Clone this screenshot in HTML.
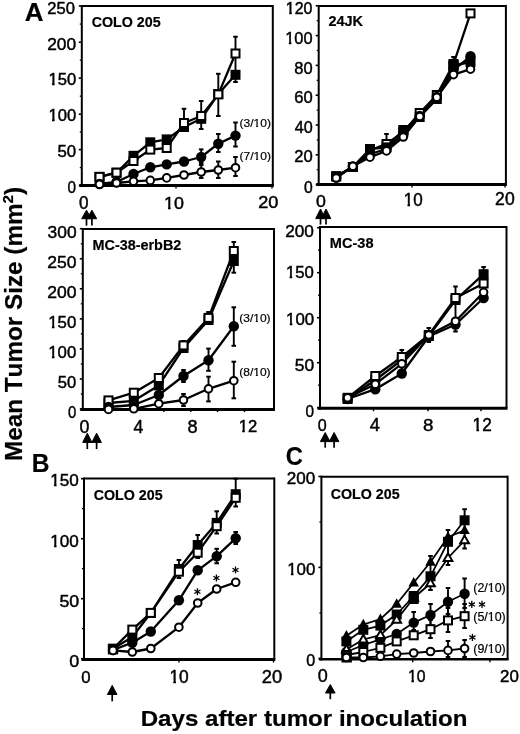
<!DOCTYPE html>
<html><head><meta charset="utf-8"><style>
html,body{margin:0;padding:0;background:#fff;}
svg{display:block;will-change:transform;}
text{font-family:"Liberation Sans",sans-serif;font-kerning:none;fill:#000;stroke:#000;stroke-width:0.45px;}
text[font-weight="bold"]{stroke-width:0.2px;}
text.sm{stroke-width:0.2px;}
</style></head><body>
<svg width="520" height="734" viewBox="0 0 520 734" stroke="#000" fill="none">
<rect x="0" y="0" width="520" height="734" fill="#fff" stroke="none"/>
<g stroke="none" fill="#000">
</g>
<line x1="81.80" y1="6.00" x2="272.80" y2="6.00" stroke-width="2.0" stroke-linecap="butt"/>
<line x1="272.80" y1="5.00" x2="272.80" y2="185.60" stroke-width="2.0" stroke-linecap="butt"/>
<line x1="81.80" y1="5.00" x2="81.80" y2="187.10" stroke-width="2.0" stroke-linecap="butt"/>
<line x1="79.30" y1="185.60" x2="273.80" y2="185.60" stroke-width="3.0" stroke-linecap="butt"/>
<line x1="78.80" y1="6.00" x2="81.80" y2="6.00" stroke-width="1.6" stroke-linecap="butt"/>
<line x1="78.80" y1="42.20" x2="81.80" y2="42.20" stroke-width="1.6" stroke-linecap="butt"/>
<line x1="78.80" y1="78.10" x2="81.80" y2="78.10" stroke-width="1.6" stroke-linecap="butt"/>
<line x1="78.80" y1="114.20" x2="81.80" y2="114.20" stroke-width="1.6" stroke-linecap="butt"/>
<line x1="78.80" y1="149.60" x2="81.80" y2="149.60" stroke-width="1.6" stroke-linecap="butt"/>
<line x1="78.80" y1="185.50" x2="81.80" y2="185.50" stroke-width="1.6" stroke-linecap="butt"/>
<line x1="79.80" y1="24.10" x2="81.80" y2="24.10" stroke-width="1.3" stroke-linecap="butt"/>
<line x1="79.80" y1="60.15" x2="81.80" y2="60.15" stroke-width="1.3" stroke-linecap="butt"/>
<line x1="79.80" y1="96.15" x2="81.80" y2="96.15" stroke-width="1.3" stroke-linecap="butt"/>
<line x1="79.80" y1="131.90" x2="81.80" y2="131.90" stroke-width="1.3" stroke-linecap="butt"/>
<line x1="79.80" y1="167.55" x2="81.80" y2="167.55" stroke-width="1.3" stroke-linecap="butt"/>
<line x1="176.00" y1="185.60" x2="176.00" y2="188.60" stroke-width="1.4" stroke-linecap="butt"/>
<line x1="272.00" y1="185.60" x2="272.00" y2="188.60" stroke-width="1.4" stroke-linecap="butt"/>
<text transform="matrix(0.9913,0,0,1,24.65,20.60)" font-size="26.16" font-weight="bold">A</text>
<text transform="matrix(0.9550,0,0,1,47.37,13.63)" font-size="17.37" font-weight="normal">250</text>
<text transform="matrix(1.0238,0,0,1,47.23,49.63)" font-size="16.95" font-weight="normal">200</text>
<text transform="matrix(0.9883,0,0,1,48.43,85.44)" font-size="16.81" font-weight="normal">150</text><g transform="matrix(0.9883,0,0,1,48.43,85.44)" fill="#fff" stroke="none"><rect x="0.471" y="-2.356" width="3.174" height="3.856"/><rect x="6.294" y="-2.356" width="3.043" height="3.856"/></g>
<text transform="matrix(0.9800,0,0,1,48.43,121.43)" font-size="16.95" font-weight="normal">100</text><g transform="matrix(0.9800,0,0,1,48.43,121.43)" fill="#fff" stroke="none"><rect x="0.475" y="-2.366" width="3.201" height="3.866"/><rect x="6.347" y="-2.366" width="3.068" height="3.866"/></g>
<text transform="matrix(1.0105,0,0,1,57.43,156.84)" font-size="16.67" font-weight="normal">50</text>
<text transform="matrix(0.9163,0,0,1,67.60,192.84)" font-size="16.67" font-weight="normal">0</text>
<text transform="matrix(0.9716,0,0,1,79.03,209.03)" font-size="17.66" font-weight="normal">0</text>
<text transform="matrix(1.0533,0,0,1,164.04,208.63)" font-size="16.95" font-weight="normal">10</text><g transform="matrix(1.0533,0,0,1,164.04,208.63)" fill="#fff" stroke="none"><rect x="0.532" y="-2.366" width="3.185" height="3.866"/><rect x="6.306" y="-2.366" width="3.052" height="3.866"/></g>
<text transform="matrix(1.0944,0,0,1,258.29,207.94)" font-size="16.53" font-weight="normal">20</text>
<text transform="matrix(1.0101,0,0,1,91.71,27.26)" font-size="14.12" font-weight="bold">COLO 205</text>
<text transform="matrix(1.0498,0,0,1,239.45,126.82)" font-size="11.49" font-weight="normal" class="sm">(3/10)</text><g transform="matrix(1.0498,0,0,1,239.45,126.82)" fill="#fff" stroke="none"><rect x="13.516" y="-1.958" width="2.228" height="3.458"/><rect x="17.854" y="-1.958" width="2.138" height="3.458"/></g>
<text transform="matrix(1.0498,0,0,1,239.45,159.52)" font-size="11.49" font-weight="normal" class="sm">(7/10)</text><g transform="matrix(1.0498,0,0,1,239.45,159.52)" fill="#fff" stroke="none"><rect x="13.516" y="-1.958" width="2.228" height="3.458"/><rect x="17.854" y="-1.958" width="2.138" height="3.458"/></g>
<path d="M86.50,210.20 L91.30,218.70 L81.70,218.70Z" fill="#000"/>
<line x1="86.50" y1="217.70" x2="86.50" y2="225.60" stroke-width="1.7" stroke-linecap="butt"/>
<path d="M91.90,210.20 L96.70,218.70 L87.10,218.70Z" fill="#000"/>
<line x1="91.90" y1="217.70" x2="91.90" y2="225.60" stroke-width="1.7" stroke-linecap="butt"/>
<line x1="184.00" y1="108.80" x2="184.00" y2="131.00" stroke-width="1.9" stroke-linecap="butt"/>
<line x1="181.70" y1="108.80" x2="186.30" y2="108.80" stroke-width="2.0" stroke-linecap="butt"/>
<line x1="181.70" y1="131.00" x2="186.30" y2="131.00" stroke-width="2.0" stroke-linecap="butt"/>
<line x1="201.20" y1="101.00" x2="201.20" y2="129.00" stroke-width="1.9" stroke-linecap="butt"/>
<line x1="198.90" y1="101.00" x2="203.50" y2="101.00" stroke-width="2.0" stroke-linecap="butt"/>
<line x1="198.90" y1="129.00" x2="203.50" y2="129.00" stroke-width="2.0" stroke-linecap="butt"/>
<line x1="218.30" y1="73.80" x2="218.30" y2="116.00" stroke-width="1.9" stroke-linecap="butt"/>
<line x1="216.00" y1="73.80" x2="220.60" y2="73.80" stroke-width="2.0" stroke-linecap="butt"/>
<line x1="216.00" y1="116.00" x2="220.60" y2="116.00" stroke-width="2.0" stroke-linecap="butt"/>
<line x1="235.50" y1="36.70" x2="235.50" y2="82.00" stroke-width="1.9" stroke-linecap="butt"/>
<line x1="233.20" y1="36.70" x2="237.80" y2="36.70" stroke-width="2.0" stroke-linecap="butt"/>
<line x1="233.20" y1="82.00" x2="237.80" y2="82.00" stroke-width="2.0" stroke-linecap="butt"/>
<line x1="218.30" y1="134.00" x2="218.30" y2="152.00" stroke-width="1.9" stroke-linecap="butt"/>
<line x1="216.00" y1="134.00" x2="220.60" y2="134.00" stroke-width="2.0" stroke-linecap="butt"/>
<line x1="216.00" y1="152.00" x2="220.60" y2="152.00" stroke-width="2.0" stroke-linecap="butt"/>
<line x1="235.50" y1="122.50" x2="235.50" y2="146.50" stroke-width="1.9" stroke-linecap="butt"/>
<line x1="233.20" y1="122.50" x2="237.80" y2="122.50" stroke-width="2.0" stroke-linecap="butt"/>
<line x1="233.20" y1="146.50" x2="237.80" y2="146.50" stroke-width="2.0" stroke-linecap="butt"/>
<line x1="201.20" y1="149.40" x2="201.20" y2="163.00" stroke-width="1.9" stroke-linecap="butt"/>
<line x1="198.90" y1="149.40" x2="203.50" y2="149.40" stroke-width="2.0" stroke-linecap="butt"/>
<line x1="198.90" y1="163.00" x2="203.50" y2="163.00" stroke-width="2.0" stroke-linecap="butt"/>
<line x1="218.30" y1="161.50" x2="218.30" y2="178.00" stroke-width="1.9" stroke-linecap="butt"/>
<line x1="216.00" y1="161.50" x2="220.60" y2="161.50" stroke-width="2.0" stroke-linecap="butt"/>
<line x1="216.00" y1="178.00" x2="220.60" y2="178.00" stroke-width="2.0" stroke-linecap="butt"/>
<line x1="235.50" y1="157.00" x2="235.50" y2="176.00" stroke-width="1.9" stroke-linecap="butt"/>
<line x1="233.20" y1="157.00" x2="237.80" y2="157.00" stroke-width="2.0" stroke-linecap="butt"/>
<line x1="233.20" y1="176.00" x2="237.80" y2="176.00" stroke-width="2.0" stroke-linecap="butt"/>
<line x1="201.20" y1="165.00" x2="201.20" y2="178.00" stroke-width="1.9" stroke-linecap="butt"/>
<line x1="198.90" y1="165.00" x2="203.50" y2="165.00" stroke-width="2.0" stroke-linecap="butt"/>
<line x1="198.90" y1="178.00" x2="203.50" y2="178.00" stroke-width="2.0" stroke-linecap="butt"/>
<polyline points="99.50,176.90 116.50,172.70 133.50,155.80 150.30,142.30 166.70,139.40 184.00,127.00 201.20,118.80 218.30,94.00 235.50,74.80" fill="none" stroke-width="2.3" stroke-linejoin="round"/>
<polyline points="99.50,176.90 116.50,172.70 133.50,161.00 150.30,149.60 166.70,148.00 184.00,123.00 201.20,116.00 218.30,94.40 235.50,53.50" fill="none" stroke-width="2.3" stroke-linejoin="round"/>
<polyline points="99.50,184.00 116.50,182.00 133.50,174.00 150.30,167.30 166.70,164.40 184.00,161.50 201.20,157.00 218.30,143.70 235.50,135.60" fill="none" stroke-width="2.3" stroke-linejoin="round"/>
<polyline points="99.50,184.20 116.50,183.00 133.50,181.30 150.30,180.40 166.70,177.90 184.00,175.00 201.20,172.00 218.30,170.00 235.50,167.70" fill="none" stroke-width="2.3" stroke-linejoin="round"/>
<rect x="94.50" y="171.90" width="10.00" height="10.00" fill="#000" stroke="none"/>
<rect x="111.50" y="167.70" width="10.00" height="10.00" fill="#000" stroke="none"/>
<rect x="128.50" y="150.80" width="10.00" height="10.00" fill="#000" stroke="none"/>
<rect x="145.30" y="137.30" width="10.00" height="10.00" fill="#000" stroke="none"/>
<rect x="161.70" y="134.40" width="10.00" height="10.00" fill="#000" stroke="none"/>
<rect x="179.00" y="122.00" width="10.00" height="10.00" fill="#000" stroke="none"/>
<rect x="196.20" y="113.80" width="10.00" height="10.00" fill="#000" stroke="none"/>
<rect x="213.30" y="89.00" width="10.00" height="10.00" fill="#000" stroke="none"/>
<rect x="230.50" y="69.80" width="10.00" height="10.00" fill="#000" stroke="none"/>
<rect x="95.50" y="172.90" width="8.00" height="8.00" fill="#fff" stroke-width="2.0"/>
<rect x="112.50" y="168.70" width="8.00" height="8.00" fill="#fff" stroke-width="2.0"/>
<rect x="129.50" y="157.00" width="8.00" height="8.00" fill="#fff" stroke-width="2.0"/>
<rect x="146.30" y="145.60" width="8.00" height="8.00" fill="#fff" stroke-width="2.0"/>
<rect x="162.70" y="144.00" width="8.00" height="8.00" fill="#fff" stroke-width="2.0"/>
<rect x="180.00" y="119.00" width="8.00" height="8.00" fill="#fff" stroke-width="2.0"/>
<rect x="197.20" y="112.00" width="8.00" height="8.00" fill="#fff" stroke-width="2.0"/>
<rect x="214.30" y="90.40" width="8.00" height="8.00" fill="#fff" stroke-width="2.0"/>
<rect x="231.50" y="49.50" width="8.00" height="8.00" fill="#fff" stroke-width="2.0"/>
<circle cx="99.50" cy="184.00" r="5.20" fill="#000" stroke="none"/>
<circle cx="116.50" cy="182.00" r="5.20" fill="#000" stroke="none"/>
<circle cx="133.50" cy="174.00" r="5.20" fill="#000" stroke="none"/>
<circle cx="150.30" cy="167.30" r="5.20" fill="#000" stroke="none"/>
<circle cx="166.70" cy="164.40" r="5.20" fill="#000" stroke="none"/>
<circle cx="184.00" cy="161.50" r="5.20" fill="#000" stroke="none"/>
<circle cx="201.20" cy="157.00" r="5.20" fill="#000" stroke="none"/>
<circle cx="218.30" cy="143.70" r="5.20" fill="#000" stroke="none"/>
<circle cx="235.50" cy="135.60" r="5.20" fill="#000" stroke="none"/>
<circle cx="99.50" cy="184.20" r="3.80" fill="#fff" stroke-width="2.0"/>
<circle cx="116.50" cy="183.00" r="3.80" fill="#fff" stroke-width="2.0"/>
<circle cx="133.50" cy="181.30" r="3.80" fill="#fff" stroke-width="2.0"/>
<circle cx="150.30" cy="180.40" r="3.80" fill="#fff" stroke-width="2.0"/>
<circle cx="166.70" cy="177.90" r="3.80" fill="#fff" stroke-width="2.0"/>
<circle cx="184.00" cy="175.00" r="3.80" fill="#fff" stroke-width="2.0"/>
<circle cx="201.20" cy="172.00" r="3.80" fill="#fff" stroke-width="2.0"/>
<circle cx="218.30" cy="170.00" r="3.80" fill="#fff" stroke-width="2.0"/>
<circle cx="235.50" cy="167.70" r="3.80" fill="#fff" stroke-width="2.0"/>
<line x1="318.70" y1="5.90" x2="505.90" y2="5.90" stroke-width="2.0" stroke-linecap="butt"/>
<line x1="505.90" y1="4.90" x2="505.90" y2="184.60" stroke-width="2.0" stroke-linecap="butt"/>
<line x1="318.70" y1="4.90" x2="318.70" y2="186.10" stroke-width="2.0" stroke-linecap="butt"/>
<line x1="316.20" y1="184.60" x2="506.90" y2="184.60" stroke-width="3.0" stroke-linecap="butt"/>
<line x1="315.70" y1="5.80" x2="318.70" y2="5.80" stroke-width="1.6" stroke-linecap="butt"/>
<line x1="315.70" y1="35.60" x2="318.70" y2="35.60" stroke-width="1.6" stroke-linecap="butt"/>
<line x1="315.70" y1="65.40" x2="318.70" y2="65.40" stroke-width="1.6" stroke-linecap="butt"/>
<line x1="315.70" y1="95.20" x2="318.70" y2="95.20" stroke-width="1.6" stroke-linecap="butt"/>
<line x1="315.70" y1="125.00" x2="318.70" y2="125.00" stroke-width="1.6" stroke-linecap="butt"/>
<line x1="315.70" y1="154.80" x2="318.70" y2="154.80" stroke-width="1.6" stroke-linecap="butt"/>
<line x1="315.70" y1="184.60" x2="318.70" y2="184.60" stroke-width="1.6" stroke-linecap="butt"/>
<line x1="316.70" y1="20.70" x2="318.70" y2="20.70" stroke-width="1.3" stroke-linecap="butt"/>
<line x1="316.70" y1="50.50" x2="318.70" y2="50.50" stroke-width="1.3" stroke-linecap="butt"/>
<line x1="316.70" y1="80.30" x2="318.70" y2="80.30" stroke-width="1.3" stroke-linecap="butt"/>
<line x1="316.70" y1="110.10" x2="318.70" y2="110.10" stroke-width="1.3" stroke-linecap="butt"/>
<line x1="316.70" y1="139.90" x2="318.70" y2="139.90" stroke-width="1.3" stroke-linecap="butt"/>
<line x1="316.70" y1="169.70" x2="318.70" y2="169.70" stroke-width="1.3" stroke-linecap="butt"/>
<line x1="412.00" y1="184.60" x2="412.00" y2="187.60" stroke-width="1.4" stroke-linecap="butt"/>
<line x1="505.00" y1="184.60" x2="505.00" y2="187.60" stroke-width="1.4" stroke-linecap="butt"/>
<text transform="matrix(0.9916,0,0,1,285.78,13.94)" font-size="16.10" font-weight="normal">120</text><g transform="matrix(0.9916,0,0,1,285.78,13.94)" fill="#fff" stroke="none"><rect x="0.420" y="-2.303" width="3.049" height="3.803"/><rect x="6.052" y="-2.303" width="2.924" height="3.803"/></g>
<text transform="matrix(0.9851,0,0,1,285.25,43.94)" font-size="16.67" font-weight="normal">100</text><g transform="matrix(0.9851,0,0,1,285.25,43.94)" fill="#fff" stroke="none"><rect x="0.457" y="-2.345" width="3.150" height="3.845"/><rect x="6.248" y="-2.345" width="3.020" height="3.845"/></g>
<text transform="matrix(0.9905,0,0,1,294.28,73.64)" font-size="16.67" font-weight="normal">80</text>
<text transform="matrix(1.0148,0,0,1,294.16,103.14)" font-size="16.38" font-weight="normal">60</text>
<text transform="matrix(0.9712,0,0,1,294.63,133.34)" font-size="16.67" font-weight="normal">40</text>
<text transform="matrix(1.0143,0,0,1,294.16,162.44)" font-size="16.38" font-weight="normal">20</text>
<text transform="matrix(0.9494,0,0,1,304.09,192.74)" font-size="16.53" font-weight="normal">0</text>
<text transform="matrix(1.0235,0,0,1,316.11,207.43)" font-size="17.37" font-weight="normal">0</text>
<text transform="matrix(0.9657,0,0,1,403.70,205.63)" font-size="17.66" font-weight="normal">10</text><g transform="matrix(0.9657,0,0,1,403.70,205.63)" fill="#fff" stroke="none"><rect x="0.516" y="-2.419" width="3.328" height="3.919"/><rect x="6.595" y="-2.419" width="3.190" height="3.919"/></g>
<text transform="matrix(0.9887,0,0,1,495.12,205.43)" font-size="17.80" font-weight="normal">20</text>
<text transform="matrix(1.0057,0,0,1,328.40,26.46)" font-size="14.41" font-weight="bold">24JK</text>
<path d="M320.50,209.00 L325.30,218.60 L315.70,218.60Z" fill="#000"/>
<line x1="320.50" y1="217.60" x2="320.50" y2="224.60" stroke-width="1.7" stroke-linecap="butt"/>
<path d="M326.00,209.00 L330.80,218.60 L321.20,218.60Z" fill="#000"/>
<line x1="326.00" y1="217.60" x2="326.00" y2="224.60" stroke-width="1.7" stroke-linecap="butt"/>
<line x1="386.50" y1="134.00" x2="386.50" y2="145.00" stroke-width="1.9" stroke-linecap="butt"/>
<line x1="384.20" y1="134.00" x2="388.80" y2="134.00" stroke-width="2.0" stroke-linecap="butt"/>
<line x1="384.20" y1="145.00" x2="388.80" y2="145.00" stroke-width="2.0" stroke-linecap="butt"/>
<line x1="453.50" y1="57.00" x2="453.50" y2="70.00" stroke-width="1.9" stroke-linecap="butt"/>
<line x1="451.20" y1="57.00" x2="455.80" y2="57.00" stroke-width="2.0" stroke-linecap="butt"/>
<line x1="451.20" y1="70.00" x2="455.80" y2="70.00" stroke-width="2.0" stroke-linecap="butt"/>
<polyline points="336.20,176.30 352.90,167.00 370.00,149.00 386.50,147.40 403.30,130.00 419.70,117.00 436.80,99.00 453.50,65.50 470.50,62.00" fill="none" stroke-width="2.3" stroke-linejoin="round"/>
<polyline points="336.20,176.30 352.90,167.00 370.00,150.00 386.50,144.00 403.30,132.00 419.70,113.00 436.80,95.00 453.50,64.00 470.50,13.40" fill="none" stroke-width="2.3" stroke-linejoin="round"/>
<polyline points="336.20,177.50 352.90,166.50 370.00,154.00 386.50,149.00 403.30,134.00 419.70,116.00 436.80,97.00 453.50,70.00 470.50,56.30" fill="none" stroke-width="2.3" stroke-linejoin="round"/>
<polyline points="336.20,178.00 352.90,166.30 370.00,157.20 386.50,150.90 403.30,137.00 419.70,116.50 436.80,97.30 453.50,74.60 470.50,69.20" fill="none" stroke-width="2.3" stroke-linejoin="round"/>
<rect x="332.20" y="172.30" width="8.00" height="8.00" fill="#fff" stroke-width="2.0"/>
<rect x="348.90" y="163.00" width="8.00" height="8.00" fill="#fff" stroke-width="2.0"/>
<rect x="366.00" y="146.00" width="8.00" height="8.00" fill="#fff" stroke-width="2.0"/>
<rect x="382.50" y="140.00" width="8.00" height="8.00" fill="#fff" stroke-width="2.0"/>
<rect x="399.30" y="128.00" width="8.00" height="8.00" fill="#fff" stroke-width="2.0"/>
<rect x="415.70" y="109.00" width="8.00" height="8.00" fill="#fff" stroke-width="2.0"/>
<rect x="432.80" y="91.00" width="8.00" height="8.00" fill="#fff" stroke-width="2.0"/>
<rect x="449.50" y="60.00" width="8.00" height="8.00" fill="#fff" stroke-width="2.0"/>
<rect x="466.50" y="9.40" width="8.00" height="8.00" fill="#fff" stroke-width="2.0"/>
<rect x="331.20" y="171.30" width="10.00" height="10.00" fill="#000" stroke="none"/>
<rect x="347.90" y="162.00" width="10.00" height="10.00" fill="#000" stroke="none"/>
<rect x="365.00" y="144.00" width="10.00" height="10.00" fill="#000" stroke="none"/>
<rect x="381.50" y="142.40" width="10.00" height="10.00" fill="#000" stroke="none"/>
<rect x="398.30" y="125.00" width="10.00" height="10.00" fill="#000" stroke="none"/>
<rect x="414.70" y="112.00" width="10.00" height="10.00" fill="#000" stroke="none"/>
<rect x="431.80" y="94.00" width="10.00" height="10.00" fill="#000" stroke="none"/>
<rect x="448.50" y="60.50" width="10.00" height="10.00" fill="#000" stroke="none"/>
<rect x="465.50" y="57.00" width="10.00" height="10.00" fill="#000" stroke="none"/>
<rect x="448.50" y="60.50" width="10.00" height="10.00" fill="#000" stroke="none"/>
<circle cx="336.20" cy="177.50" r="5.20" fill="#000" stroke="none"/>
<circle cx="352.90" cy="166.50" r="5.20" fill="#000" stroke="none"/>
<circle cx="370.00" cy="154.00" r="5.20" fill="#000" stroke="none"/>
<circle cx="386.50" cy="149.00" r="5.20" fill="#000" stroke="none"/>
<circle cx="403.30" cy="134.00" r="5.20" fill="#000" stroke="none"/>
<circle cx="419.70" cy="116.00" r="5.20" fill="#000" stroke="none"/>
<circle cx="436.80" cy="97.00" r="5.20" fill="#000" stroke="none"/>
<circle cx="453.50" cy="70.00" r="5.20" fill="#000" stroke="none"/>
<circle cx="470.50" cy="56.30" r="5.20" fill="#000" stroke="none"/>
<circle cx="336.20" cy="178.00" r="3.80" fill="#fff" stroke-width="2.0"/>
<circle cx="352.90" cy="166.30" r="3.80" fill="#fff" stroke-width="2.0"/>
<circle cx="370.00" cy="157.20" r="3.80" fill="#fff" stroke-width="2.0"/>
<circle cx="386.50" cy="150.90" r="3.80" fill="#fff" stroke-width="2.0"/>
<circle cx="403.30" cy="137.00" r="3.80" fill="#fff" stroke-width="2.0"/>
<circle cx="419.70" cy="116.50" r="3.80" fill="#fff" stroke-width="2.0"/>
<circle cx="436.80" cy="97.30" r="3.80" fill="#fff" stroke-width="2.0"/>
<circle cx="453.50" cy="74.60" r="3.80" fill="#fff" stroke-width="2.0"/>
<circle cx="470.50" cy="69.20" r="3.80" fill="#fff" stroke-width="2.0"/>
<line x1="82.80" y1="229.00" x2="274.00" y2="229.00" stroke-width="2.0" stroke-linecap="butt"/>
<line x1="274.00" y1="228.00" x2="274.00" y2="409.50" stroke-width="2.0" stroke-linecap="butt"/>
<line x1="82.80" y1="228.00" x2="82.80" y2="411.00" stroke-width="2.0" stroke-linecap="butt"/>
<line x1="80.30" y1="409.50" x2="275.00" y2="409.50" stroke-width="3.0" stroke-linecap="butt"/>
<line x1="79.80" y1="228.70" x2="82.80" y2="228.70" stroke-width="1.6" stroke-linecap="butt"/>
<line x1="79.80" y1="258.75" x2="82.80" y2="258.75" stroke-width="1.6" stroke-linecap="butt"/>
<line x1="79.80" y1="288.80" x2="82.80" y2="288.80" stroke-width="1.6" stroke-linecap="butt"/>
<line x1="79.80" y1="318.85" x2="82.80" y2="318.85" stroke-width="1.6" stroke-linecap="butt"/>
<line x1="79.80" y1="348.90" x2="82.80" y2="348.90" stroke-width="1.6" stroke-linecap="butt"/>
<line x1="79.80" y1="378.95" x2="82.80" y2="378.95" stroke-width="1.6" stroke-linecap="butt"/>
<line x1="79.80" y1="409.00" x2="82.80" y2="409.00" stroke-width="1.6" stroke-linecap="butt"/>
<line x1="80.80" y1="243.72" x2="82.80" y2="243.72" stroke-width="1.3" stroke-linecap="butt"/>
<line x1="80.80" y1="273.77" x2="82.80" y2="273.77" stroke-width="1.3" stroke-linecap="butt"/>
<line x1="80.80" y1="303.83" x2="82.80" y2="303.83" stroke-width="1.3" stroke-linecap="butt"/>
<line x1="80.80" y1="333.88" x2="82.80" y2="333.88" stroke-width="1.3" stroke-linecap="butt"/>
<line x1="80.80" y1="363.92" x2="82.80" y2="363.92" stroke-width="1.3" stroke-linecap="butt"/>
<line x1="80.80" y1="393.98" x2="82.80" y2="393.98" stroke-width="1.3" stroke-linecap="butt"/>
<line x1="136.50" y1="409.50" x2="136.50" y2="412.10" stroke-width="1.4" stroke-linecap="butt"/>
<line x1="163.80" y1="409.50" x2="163.80" y2="412.10" stroke-width="1.4" stroke-linecap="butt"/>
<line x1="190.80" y1="409.50" x2="190.80" y2="412.10" stroke-width="1.4" stroke-linecap="butt"/>
<line x1="217.50" y1="409.50" x2="217.50" y2="412.10" stroke-width="1.4" stroke-linecap="butt"/>
<line x1="244.50" y1="409.50" x2="244.50" y2="412.10" stroke-width="1.4" stroke-linecap="butt"/>
<text transform="matrix(1.0020,0,0,1,47.54,237.63)" font-size="17.37" font-weight="normal">300</text>
<text transform="matrix(1.0097,0,0,1,47.32,267.63)" font-size="17.37" font-weight="normal">250</text>
<text transform="matrix(1.0097,0,0,1,47.32,297.63)" font-size="17.37" font-weight="normal">200</text>
<text transform="matrix(0.9673,0,0,1,48.22,327.63)" font-size="17.37" font-weight="normal">150</text><g transform="matrix(0.9673,0,0,1,48.22,327.63)" fill="#fff" stroke="none"><rect x="0.496" y="-2.398" width="3.278" height="3.898"/><rect x="6.498" y="-2.398" width="3.142" height="3.898"/></g>
<text transform="matrix(0.9673,0,0,1,48.22,357.63)" font-size="17.37" font-weight="normal">100</text><g transform="matrix(0.9673,0,0,1,48.22,357.63)" fill="#fff" stroke="none"><rect x="0.496" y="-2.398" width="3.278" height="3.898"/><rect x="6.498" y="-2.398" width="3.142" height="3.898"/></g>
<text transform="matrix(0.9527,0,0,1,57.84,387.63)" font-size="17.37" font-weight="normal">50</text>
<text transform="matrix(0.8549,0,0,1,67.92,417.63)" font-size="17.37" font-weight="normal">0</text>
<text transform="matrix(1.0072,0,0,1,79.51,432.73)" font-size="17.66" font-weight="normal">0</text>
<text transform="matrix(0.9879,0,0,1,133.59,432.50)" font-size="17.88" font-weight="normal">4</text>
<text transform="matrix(0.9790,0,0,1,187.61,432.72)" font-size="18.50" font-weight="normal">8</text>
<text transform="matrix(0.9680,0,0,1,238.63,431.90)" font-size="17.19" font-weight="normal">12</text><g transform="matrix(0.9680,0,0,1,238.63,431.90)" fill="#fff" stroke="none"><rect x="0.483" y="-2.384" width="3.245" height="3.884"/><rect x="6.435" y="-2.384" width="3.111" height="3.884"/></g>
<text transform="matrix(0.9379,0,0,1,92.54,250.23)" font-size="15.36" font-weight="bold">MC-38-erbB2</text>
<text transform="matrix(1.0428,0,0,1,239.36,321.92)" font-size="11.49" font-weight="normal" class="sm">(3/10)</text><g transform="matrix(1.0428,0,0,1,239.36,321.92)" fill="#fff" stroke="none"><rect x="13.511" y="-1.958" width="2.229" height="3.458"/><rect x="17.858" y="-1.958" width="2.139" height="3.458"/></g>
<text transform="matrix(1.0626,0,0,1,239.36,376.47)" font-size="11.27" font-weight="normal" class="sm">(8/10)</text><g transform="matrix(1.0626,0,0,1,239.36,376.47)" fill="#fff" stroke="none"><rect x="13.258" y="-1.942" width="2.187" height="3.442"/><rect x="17.524" y="-1.942" width="2.099" height="3.442"/></g>
<path d="M87.30,433.20 L91.90,442.40 L82.70,442.40Z" fill="#000"/>
<line x1="87.30" y1="441.40" x2="87.30" y2="449.10" stroke-width="1.7" stroke-linecap="butt"/>
<path d="M96.60,433.20 L101.40,442.40 L91.80,442.40Z" fill="#000"/>
<line x1="96.60" y1="441.40" x2="96.60" y2="449.10" stroke-width="1.7" stroke-linecap="butt"/>
<line x1="233.80" y1="242.00" x2="233.80" y2="272.70" stroke-width="1.9" stroke-linecap="butt"/>
<line x1="231.50" y1="242.00" x2="236.10" y2="242.00" stroke-width="2.0" stroke-linecap="butt"/>
<line x1="231.50" y1="272.70" x2="236.10" y2="272.70" stroke-width="2.0" stroke-linecap="butt"/>
<line x1="208.50" y1="312.00" x2="208.50" y2="324.00" stroke-width="1.9" stroke-linecap="butt"/>
<line x1="206.20" y1="312.00" x2="210.80" y2="312.00" stroke-width="2.0" stroke-linecap="butt"/>
<line x1="206.20" y1="324.00" x2="210.80" y2="324.00" stroke-width="2.0" stroke-linecap="butt"/>
<line x1="183.50" y1="341.00" x2="183.50" y2="352.00" stroke-width="1.9" stroke-linecap="butt"/>
<line x1="181.20" y1="341.00" x2="185.80" y2="341.00" stroke-width="2.0" stroke-linecap="butt"/>
<line x1="181.20" y1="352.00" x2="185.80" y2="352.00" stroke-width="2.0" stroke-linecap="butt"/>
<line x1="233.80" y1="307.30" x2="233.80" y2="345.80" stroke-width="1.9" stroke-linecap="butt"/>
<line x1="231.50" y1="307.30" x2="236.10" y2="307.30" stroke-width="2.0" stroke-linecap="butt"/>
<line x1="231.50" y1="345.80" x2="236.10" y2="345.80" stroke-width="2.0" stroke-linecap="butt"/>
<line x1="208.50" y1="348.60" x2="208.50" y2="370.80" stroke-width="1.9" stroke-linecap="butt"/>
<line x1="206.20" y1="348.60" x2="210.80" y2="348.60" stroke-width="2.0" stroke-linecap="butt"/>
<line x1="206.20" y1="370.80" x2="210.80" y2="370.80" stroke-width="2.0" stroke-linecap="butt"/>
<line x1="183.50" y1="370.00" x2="183.50" y2="382.00" stroke-width="1.9" stroke-linecap="butt"/>
<line x1="181.20" y1="370.00" x2="185.80" y2="370.00" stroke-width="2.0" stroke-linecap="butt"/>
<line x1="181.20" y1="382.00" x2="185.80" y2="382.00" stroke-width="2.0" stroke-linecap="butt"/>
<line x1="233.80" y1="361.70" x2="233.80" y2="398.30" stroke-width="1.9" stroke-linecap="butt"/>
<line x1="231.50" y1="361.70" x2="236.10" y2="361.70" stroke-width="2.0" stroke-linecap="butt"/>
<line x1="231.50" y1="398.30" x2="236.10" y2="398.30" stroke-width="2.0" stroke-linecap="butt"/>
<line x1="208.50" y1="376.70" x2="208.50" y2="401.40" stroke-width="1.9" stroke-linecap="butt"/>
<line x1="206.20" y1="376.70" x2="210.80" y2="376.70" stroke-width="2.0" stroke-linecap="butt"/>
<line x1="206.20" y1="401.40" x2="210.80" y2="401.40" stroke-width="2.0" stroke-linecap="butt"/>
<line x1="183.50" y1="394.00" x2="183.50" y2="406.00" stroke-width="1.9" stroke-linecap="butt"/>
<line x1="181.20" y1="394.00" x2="185.80" y2="394.00" stroke-width="2.0" stroke-linecap="butt"/>
<line x1="181.20" y1="406.00" x2="185.80" y2="406.00" stroke-width="2.0" stroke-linecap="butt"/>
<polyline points="108.50,403.00 133.80,400.80 158.80,385.40 183.50,348.00 208.50,320.00 233.80,261.00" fill="none" stroke-width="2.3" stroke-linejoin="round"/>
<polyline points="108.50,400.40 133.80,392.70 158.80,378.00 183.50,345.40 208.50,317.90 233.80,251.00" fill="none" stroke-width="2.3" stroke-linejoin="round"/>
<polyline points="108.50,407.00 133.80,405.00 158.80,395.00 183.50,376.00 208.50,360.20 233.80,326.30" fill="none" stroke-width="2.3" stroke-linejoin="round"/>
<polyline points="108.50,409.40 133.80,408.80 158.80,403.70 183.50,400.00 208.50,388.80 233.80,380.70" fill="none" stroke-width="2.3" stroke-linejoin="round"/>
<rect x="103.50" y="398.00" width="10.00" height="10.00" fill="#000" stroke="none"/>
<rect x="128.80" y="395.80" width="10.00" height="10.00" fill="#000" stroke="none"/>
<rect x="153.80" y="380.40" width="10.00" height="10.00" fill="#000" stroke="none"/>
<rect x="178.50" y="343.00" width="10.00" height="10.00" fill="#000" stroke="none"/>
<rect x="203.50" y="315.00" width="10.00" height="10.00" fill="#000" stroke="none"/>
<rect x="228.80" y="256.00" width="10.00" height="10.00" fill="#000" stroke="none"/>
<rect x="104.50" y="396.40" width="8.00" height="8.00" fill="#fff" stroke-width="2.0"/>
<rect x="129.80" y="388.70" width="8.00" height="8.00" fill="#fff" stroke-width="2.0"/>
<rect x="154.80" y="374.00" width="8.00" height="8.00" fill="#fff" stroke-width="2.0"/>
<rect x="179.50" y="341.40" width="8.00" height="8.00" fill="#fff" stroke-width="2.0"/>
<rect x="204.50" y="313.90" width="8.00" height="8.00" fill="#fff" stroke-width="2.0"/>
<rect x="229.80" y="247.00" width="8.00" height="8.00" fill="#fff" stroke-width="2.0"/>
<circle cx="108.50" cy="407.00" r="5.20" fill="#000" stroke="none"/>
<circle cx="133.80" cy="405.00" r="5.20" fill="#000" stroke="none"/>
<circle cx="158.80" cy="395.00" r="5.20" fill="#000" stroke="none"/>
<circle cx="183.50" cy="376.00" r="5.20" fill="#000" stroke="none"/>
<circle cx="208.50" cy="360.20" r="5.20" fill="#000" stroke="none"/>
<circle cx="233.80" cy="326.30" r="5.20" fill="#000" stroke="none"/>
<circle cx="108.50" cy="409.40" r="3.80" fill="#fff" stroke-width="2.0"/>
<circle cx="133.80" cy="408.80" r="3.80" fill="#fff" stroke-width="2.0"/>
<circle cx="158.80" cy="403.70" r="3.80" fill="#fff" stroke-width="2.0"/>
<circle cx="183.50" cy="400.00" r="3.80" fill="#fff" stroke-width="2.0"/>
<circle cx="208.50" cy="388.80" r="3.80" fill="#fff" stroke-width="2.0"/>
<circle cx="233.80" cy="380.70" r="3.80" fill="#fff" stroke-width="2.0"/>
<line x1="320.00" y1="227.00" x2="506.50" y2="227.00" stroke-width="2.0" stroke-linecap="butt"/>
<line x1="506.50" y1="226.00" x2="506.50" y2="408.30" stroke-width="2.0" stroke-linecap="butt"/>
<line x1="320.00" y1="226.00" x2="320.00" y2="409.80" stroke-width="2.0" stroke-linecap="butt"/>
<line x1="317.50" y1="408.30" x2="507.50" y2="408.30" stroke-width="3.0" stroke-linecap="butt"/>
<line x1="317.00" y1="227.70" x2="320.00" y2="227.70" stroke-width="1.6" stroke-linecap="butt"/>
<line x1="317.00" y1="272.70" x2="320.00" y2="272.70" stroke-width="1.6" stroke-linecap="butt"/>
<line x1="317.00" y1="317.70" x2="320.00" y2="317.70" stroke-width="1.6" stroke-linecap="butt"/>
<line x1="317.00" y1="362.70" x2="320.00" y2="362.70" stroke-width="1.6" stroke-linecap="butt"/>
<line x1="317.00" y1="407.70" x2="320.00" y2="407.70" stroke-width="1.6" stroke-linecap="butt"/>
<line x1="318.00" y1="250.20" x2="320.00" y2="250.20" stroke-width="1.3" stroke-linecap="butt"/>
<line x1="318.00" y1="295.20" x2="320.00" y2="295.20" stroke-width="1.3" stroke-linecap="butt"/>
<line x1="318.00" y1="340.20" x2="320.00" y2="340.20" stroke-width="1.3" stroke-linecap="butt"/>
<line x1="318.00" y1="385.20" x2="320.00" y2="385.20" stroke-width="1.3" stroke-linecap="butt"/>
<line x1="373.50" y1="408.30" x2="373.50" y2="411.30" stroke-width="1.4" stroke-linecap="butt"/>
<line x1="428.00" y1="408.30" x2="428.00" y2="411.30" stroke-width="1.4" stroke-linecap="butt"/>
<line x1="481.00" y1="408.30" x2="481.00" y2="411.30" stroke-width="1.4" stroke-linecap="butt"/>
<text transform="matrix(1.0163,0,0,1,285.13,237.03)" font-size="16.95" font-weight="normal">200</text>
<text transform="matrix(1.0306,0,0,1,285.92,277.94)" font-size="16.24" font-weight="normal">150</text><g transform="matrix(1.0306,0,0,1,285.92,277.94)" fill="#fff" stroke="none"><rect x="0.461" y="-2.313" width="3.066" height="3.813"/><rect x="6.078" y="-2.313" width="2.939" height="3.813"/></g>
<text transform="matrix(1.0436,0,0,1,286.12,325.14)" font-size="16.10" font-weight="normal">100</text><g transform="matrix(1.0436,0,0,1,286.12,325.14)" fill="#fff" stroke="none"><rect x="0.460" y="-2.303" width="3.038" height="3.803"/><rect x="6.023" y="-2.303" width="2.912" height="3.803"/></g>
<text transform="matrix(1.0820,0,0,1,294.80,370.94)" font-size="16.10" font-weight="normal">50</text>
<text transform="matrix(0.9010,0,0,1,305.60,417.23)" font-size="16.95" font-weight="normal">0</text>
<text transform="matrix(0.9425,0,0,1,317.67,431.13)" font-size="17.09" font-weight="normal">0</text>
<text transform="matrix(1.0130,0,0,1,369.68,431.00)" font-size="18.02" font-weight="normal">4</text>
<text transform="matrix(1.0973,0,0,1,422.99,430.73)" font-size="17.09" font-weight="normal">8</text>
<text transform="matrix(0.9789,0,0,1,472.59,430.80)" font-size="17.62" font-weight="normal">12</text><g transform="matrix(0.9789,0,0,1,472.59,430.80)" fill="#fff" stroke="none"><rect x="0.525" y="-2.416" width="3.318" height="3.916"/><rect x="6.574" y="-2.416" width="3.180" height="3.916"/></g>
<text transform="matrix(1.0236,0,0,1,329.83,247.74)" font-size="14.24" font-weight="bold">MC-38</text>
<path d="M325.20,432.50 L330.00,441.60 L320.40,441.60Z" fill="#000"/>
<line x1="325.20" y1="440.60" x2="325.20" y2="447.70" stroke-width="1.7" stroke-linecap="butt"/>
<path d="M334.10,432.50 L338.90,441.60 L329.30,441.60Z" fill="#000"/>
<line x1="334.10" y1="440.60" x2="334.10" y2="447.70" stroke-width="1.7" stroke-linecap="butt"/>
<line x1="483.60" y1="267.00" x2="483.60" y2="300.00" stroke-width="1.9" stroke-linecap="butt"/>
<line x1="481.30" y1="267.00" x2="485.90" y2="267.00" stroke-width="2.0" stroke-linecap="butt"/>
<line x1="481.30" y1="300.00" x2="485.90" y2="300.00" stroke-width="2.0" stroke-linecap="butt"/>
<line x1="455.50" y1="286.50" x2="455.50" y2="331.50" stroke-width="1.9" stroke-linecap="butt"/>
<line x1="453.20" y1="286.50" x2="457.80" y2="286.50" stroke-width="2.0" stroke-linecap="butt"/>
<line x1="453.20" y1="331.50" x2="457.80" y2="331.50" stroke-width="2.0" stroke-linecap="butt"/>
<line x1="428.80" y1="328.00" x2="428.80" y2="342.00" stroke-width="1.9" stroke-linecap="butt"/>
<line x1="426.50" y1="328.00" x2="431.10" y2="328.00" stroke-width="2.0" stroke-linecap="butt"/>
<line x1="426.50" y1="342.00" x2="431.10" y2="342.00" stroke-width="2.0" stroke-linecap="butt"/>
<line x1="401.80" y1="350.00" x2="401.80" y2="370.00" stroke-width="1.9" stroke-linecap="butt"/>
<line x1="399.50" y1="350.00" x2="404.10" y2="350.00" stroke-width="2.0" stroke-linecap="butt"/>
<line x1="399.50" y1="370.00" x2="404.10" y2="370.00" stroke-width="2.0" stroke-linecap="butt"/>
<polyline points="347.60,399.00 375.30,380.00 401.80,360.00 428.80,336.00 455.50,300.00 483.60,274.20" fill="none" stroke-width="2.3" stroke-linejoin="round"/>
<polyline points="347.60,397.80 375.30,376.00 401.80,357.00 428.80,335.00 455.50,298.00 483.60,283.50" fill="none" stroke-width="2.3" stroke-linejoin="round"/>
<polyline points="347.60,399.00 375.30,389.20 401.80,373.50 428.80,336.50 455.50,324.50 483.60,298.00" fill="none" stroke-width="2.3" stroke-linejoin="round"/>
<polyline points="347.60,397.80 375.30,384.20 401.80,363.80 428.80,335.00 455.50,321.20 483.60,292.30" fill="none" stroke-width="2.3" stroke-linejoin="round"/>
<rect x="342.60" y="394.00" width="10.00" height="10.00" fill="#000" stroke="none"/>
<rect x="370.30" y="375.00" width="10.00" height="10.00" fill="#000" stroke="none"/>
<rect x="396.80" y="355.00" width="10.00" height="10.00" fill="#000" stroke="none"/>
<rect x="423.80" y="331.00" width="10.00" height="10.00" fill="#000" stroke="none"/>
<rect x="450.50" y="295.00" width="10.00" height="10.00" fill="#000" stroke="none"/>
<rect x="478.60" y="269.20" width="10.00" height="10.00" fill="#000" stroke="none"/>
<rect x="343.60" y="393.80" width="8.00" height="8.00" fill="#fff" stroke-width="2.0"/>
<rect x="371.30" y="372.00" width="8.00" height="8.00" fill="#fff" stroke-width="2.0"/>
<rect x="397.80" y="353.00" width="8.00" height="8.00" fill="#fff" stroke-width="2.0"/>
<rect x="424.80" y="331.00" width="8.00" height="8.00" fill="#fff" stroke-width="2.0"/>
<rect x="451.50" y="294.00" width="8.00" height="8.00" fill="#fff" stroke-width="2.0"/>
<rect x="479.60" y="279.50" width="8.00" height="8.00" fill="#fff" stroke-width="2.0"/>
<circle cx="347.60" cy="399.00" r="5.20" fill="#000" stroke="none"/>
<circle cx="375.30" cy="389.20" r="5.20" fill="#000" stroke="none"/>
<circle cx="401.80" cy="373.50" r="5.20" fill="#000" stroke="none"/>
<circle cx="428.80" cy="336.50" r="5.20" fill="#000" stroke="none"/>
<circle cx="455.50" cy="324.50" r="5.20" fill="#000" stroke="none"/>
<circle cx="483.60" cy="298.00" r="5.20" fill="#000" stroke="none"/>
<circle cx="347.60" cy="397.80" r="3.80" fill="#fff" stroke-width="2.0"/>
<circle cx="375.30" cy="384.20" r="3.80" fill="#fff" stroke-width="2.0"/>
<circle cx="401.80" cy="363.80" r="3.80" fill="#fff" stroke-width="2.0"/>
<circle cx="428.80" cy="335.00" r="3.80" fill="#fff" stroke-width="2.0"/>
<circle cx="455.50" cy="321.20" r="3.80" fill="#fff" stroke-width="2.0"/>
<circle cx="483.60" cy="292.30" r="3.80" fill="#fff" stroke-width="2.0"/>
<line x1="84.00" y1="478.50" x2="274.30" y2="478.50" stroke-width="2.0" stroke-linecap="butt"/>
<line x1="274.30" y1="477.50" x2="274.30" y2="659.50" stroke-width="2.0" stroke-linecap="butt"/>
<line x1="84.00" y1="477.50" x2="84.00" y2="661.00" stroke-width="2.0" stroke-linecap="butt"/>
<line x1="81.50" y1="659.50" x2="275.30" y2="659.50" stroke-width="3.0" stroke-linecap="butt"/>
<line x1="81.00" y1="478.70" x2="84.00" y2="478.70" stroke-width="1.6" stroke-linecap="butt"/>
<line x1="81.00" y1="538.70" x2="84.00" y2="538.70" stroke-width="1.6" stroke-linecap="butt"/>
<line x1="81.00" y1="598.70" x2="84.00" y2="598.70" stroke-width="1.6" stroke-linecap="butt"/>
<line x1="81.00" y1="658.70" x2="84.00" y2="658.70" stroke-width="1.6" stroke-linecap="butt"/>
<line x1="82.00" y1="508.70" x2="84.00" y2="508.70" stroke-width="1.3" stroke-linecap="butt"/>
<line x1="82.00" y1="568.70" x2="84.00" y2="568.70" stroke-width="1.3" stroke-linecap="butt"/>
<line x1="82.00" y1="628.70" x2="84.00" y2="628.70" stroke-width="1.3" stroke-linecap="butt"/>
<line x1="179.00" y1="659.50" x2="179.00" y2="662.50" stroke-width="1.4" stroke-linecap="butt"/>
<line x1="273.50" y1="659.50" x2="273.50" y2="662.50" stroke-width="1.4" stroke-linecap="butt"/>
<text transform="matrix(0.9781,0,0,1,31.75,471.70)" font-size="25.15" font-weight="bold">B</text>
<text transform="matrix(1.0453,0,0,1,50.20,486.34)" font-size="16.38" font-weight="normal">150</text><g transform="matrix(1.0453,0,0,1,50.20,486.34)" fill="#fff" stroke="none"><rect x="0.483" y="-2.324" width="3.087" height="3.824"/><rect x="6.118" y="-2.324" width="2.959" height="3.824"/></g>
<text transform="matrix(1.0104,0,0,1,50.20,546.83)" font-size="16.95" font-weight="normal">100</text><g transform="matrix(1.0104,0,0,1,50.20,546.83)" fill="#fff" stroke="none"><rect x="0.499" y="-2.366" width="3.194" height="3.866"/><rect x="6.329" y="-2.366" width="3.061" height="3.866"/></g>
<text transform="matrix(1.0507,0,0,1,59.39,606.53)" font-size="16.95" font-weight="normal">50</text>
<text transform="matrix(1.0704,0,0,1,69.20,667.14)" font-size="16.81" font-weight="normal">0</text>
<text transform="matrix(0.9633,0,0,1,81.35,683.03)" font-size="17.37" font-weight="normal">0</text>
<text transform="matrix(0.9673,0,0,1,169.48,682.72)" font-size="17.94" font-weight="normal">10</text><g transform="matrix(0.9673,0,0,1,169.48,682.72)" fill="#fff" stroke="none"><rect x="0.539" y="-2.440" width="3.377" height="3.940"/><rect x="6.690" y="-2.440" width="3.237" height="3.940"/></g>
<text transform="matrix(1.0087,0,0,1,261.78,682.52)" font-size="18.22" font-weight="normal">20</text>
<text transform="matrix(1.0101,0,0,1,93.71,500.26)" font-size="14.12" font-weight="bold">COLO 205</text>
<path d="M112.20,685.40 L117.00,694.50 L107.40,694.50Z" fill="#000"/>
<line x1="112.20" y1="693.50" x2="112.20" y2="701.30" stroke-width="1.7" stroke-linecap="butt"/>
<line x1="235.70" y1="478.70" x2="235.70" y2="506.50" stroke-width="1.9" stroke-linecap="butt"/>
<line x1="233.40" y1="478.70" x2="238.00" y2="478.70" stroke-width="2.0" stroke-linecap="butt"/>
<line x1="233.40" y1="506.50" x2="238.00" y2="506.50" stroke-width="2.0" stroke-linecap="butt"/>
<line x1="216.70" y1="511.30" x2="216.70" y2="533.50" stroke-width="1.9" stroke-linecap="butt"/>
<line x1="214.40" y1="511.30" x2="219.00" y2="511.30" stroke-width="2.0" stroke-linecap="butt"/>
<line x1="214.40" y1="533.50" x2="219.00" y2="533.50" stroke-width="2.0" stroke-linecap="butt"/>
<line x1="197.70" y1="535.00" x2="197.70" y2="558.00" stroke-width="1.9" stroke-linecap="butt"/>
<line x1="195.40" y1="535.00" x2="200.00" y2="535.00" stroke-width="2.0" stroke-linecap="butt"/>
<line x1="195.40" y1="558.00" x2="200.00" y2="558.00" stroke-width="2.0" stroke-linecap="butt"/>
<line x1="178.90" y1="560.00" x2="178.90" y2="578.00" stroke-width="1.9" stroke-linecap="butt"/>
<line x1="176.60" y1="560.00" x2="181.20" y2="560.00" stroke-width="2.0" stroke-linecap="butt"/>
<line x1="176.60" y1="578.00" x2="181.20" y2="578.00" stroke-width="2.0" stroke-linecap="butt"/>
<line x1="235.70" y1="532.00" x2="235.70" y2="544.00" stroke-width="1.9" stroke-linecap="butt"/>
<line x1="233.40" y1="532.00" x2="238.00" y2="532.00" stroke-width="2.0" stroke-linecap="butt"/>
<line x1="233.40" y1="544.00" x2="238.00" y2="544.00" stroke-width="2.0" stroke-linecap="butt"/>
<line x1="216.70" y1="548.80" x2="216.70" y2="563.30" stroke-width="1.9" stroke-linecap="butt"/>
<line x1="214.40" y1="548.80" x2="219.00" y2="548.80" stroke-width="2.0" stroke-linecap="butt"/>
<line x1="214.40" y1="563.30" x2="219.00" y2="563.30" stroke-width="2.0" stroke-linecap="butt"/>
<polyline points="113.00,648.80 132.30,637.00 150.80,613.00 178.90,569.00 197.70,545.00 216.70,522.90 235.70,494.20" fill="none" stroke-width="2.3" stroke-linejoin="round"/>
<polyline points="113.00,648.80 132.30,629.60 150.80,612.90 178.90,571.70 197.70,552.70 216.70,526.20 235.70,497.80" fill="none" stroke-width="2.3" stroke-linejoin="round"/>
<polyline points="113.00,650.00 132.30,642.70 150.80,631.50 178.90,600.30 197.70,570.30 216.70,556.20 235.70,538.30" fill="none" stroke-width="2.3" stroke-linejoin="round"/>
<polyline points="113.00,650.40 132.30,652.00 150.80,648.50 178.90,627.20 197.70,603.00 216.70,589.00 235.70,582.30" fill="none" stroke-width="2.3" stroke-linejoin="round"/>
<rect x="108.00" y="643.80" width="10.00" height="10.00" fill="#000" stroke="none"/>
<rect x="127.30" y="632.00" width="10.00" height="10.00" fill="#000" stroke="none"/>
<rect x="145.80" y="608.00" width="10.00" height="10.00" fill="#000" stroke="none"/>
<rect x="173.90" y="564.00" width="10.00" height="10.00" fill="#000" stroke="none"/>
<rect x="192.70" y="540.00" width="10.00" height="10.00" fill="#000" stroke="none"/>
<rect x="211.70" y="517.90" width="10.00" height="10.00" fill="#000" stroke="none"/>
<rect x="230.70" y="489.20" width="10.00" height="10.00" fill="#000" stroke="none"/>
<rect x="109.00" y="644.80" width="8.00" height="8.00" fill="#fff" stroke-width="2.0"/>
<rect x="128.30" y="625.60" width="8.00" height="8.00" fill="#fff" stroke-width="2.0"/>
<rect x="146.80" y="608.90" width="8.00" height="8.00" fill="#fff" stroke-width="2.0"/>
<rect x="174.90" y="567.70" width="8.00" height="8.00" fill="#fff" stroke-width="2.0"/>
<rect x="193.70" y="548.70" width="8.00" height="8.00" fill="#fff" stroke-width="2.0"/>
<rect x="212.70" y="522.20" width="8.00" height="8.00" fill="#fff" stroke-width="2.0"/>
<rect x="231.70" y="493.80" width="8.00" height="8.00" fill="#fff" stroke-width="2.0"/>
<circle cx="113.00" cy="650.00" r="5.20" fill="#000" stroke="none"/>
<circle cx="132.30" cy="642.70" r="5.20" fill="#000" stroke="none"/>
<circle cx="150.80" cy="631.50" r="5.20" fill="#000" stroke="none"/>
<circle cx="178.90" cy="600.30" r="5.20" fill="#000" stroke="none"/>
<circle cx="197.70" cy="570.30" r="5.20" fill="#000" stroke="none"/>
<circle cx="216.70" cy="556.20" r="5.20" fill="#000" stroke="none"/>
<circle cx="235.70" cy="538.30" r="5.20" fill="#000" stroke="none"/>
<rect x="107.80" y="644.00" width="10.40" height="10.40" fill="#000" stroke="none"/>
<circle cx="113.00" cy="650.40" r="3.80" fill="#fff" stroke-width="2.0"/>
<circle cx="132.30" cy="652.00" r="3.80" fill="#fff" stroke-width="2.0"/>
<circle cx="150.80" cy="648.50" r="3.80" fill="#fff" stroke-width="2.0"/>
<circle cx="178.90" cy="627.20" r="3.80" fill="#fff" stroke-width="2.0"/>
<circle cx="197.70" cy="603.00" r="3.80" fill="#fff" stroke-width="2.0"/>
<circle cx="216.70" cy="589.00" r="3.80" fill="#fff" stroke-width="2.0"/>
<circle cx="235.70" cy="582.30" r="3.80" fill="#fff" stroke-width="2.0"/>
<line x1="197.40" y1="588.20" x2="197.40" y2="595.20" stroke-width="1.3" stroke-linecap="butt"/>
<line x1="194.37" y1="589.95" x2="200.43" y2="593.45" stroke-width="1.3" stroke-linecap="butt"/>
<line x1="200.43" y1="589.95" x2="194.37" y2="593.45" stroke-width="1.3" stroke-linecap="butt"/>
<line x1="216.40" y1="574.50" x2="216.40" y2="581.50" stroke-width="1.3" stroke-linecap="butt"/>
<line x1="213.37" y1="576.25" x2="219.43" y2="579.75" stroke-width="1.3" stroke-linecap="butt"/>
<line x1="219.43" y1="576.25" x2="213.37" y2="579.75" stroke-width="1.3" stroke-linecap="butt"/>
<line x1="235.50" y1="566.50" x2="235.50" y2="573.50" stroke-width="1.3" stroke-linecap="butt"/>
<line x1="232.47" y1="568.25" x2="238.53" y2="571.75" stroke-width="1.3" stroke-linecap="butt"/>
<line x1="238.53" y1="568.25" x2="232.47" y2="571.75" stroke-width="1.3" stroke-linecap="butt"/>
<line x1="321.40" y1="476.70" x2="507.60" y2="476.70" stroke-width="2.0" stroke-linecap="butt"/>
<line x1="507.60" y1="475.70" x2="507.60" y2="659.30" stroke-width="2.0" stroke-linecap="butt"/>
<line x1="321.40" y1="475.70" x2="321.40" y2="660.50" stroke-width="2.0" stroke-linecap="butt"/>
<line x1="318.90" y1="659.30" x2="508.60" y2="659.30" stroke-width="2.4" stroke-linecap="butt"/>
<line x1="318.40" y1="476.50" x2="321.40" y2="476.50" stroke-width="1.6" stroke-linecap="butt"/>
<line x1="318.40" y1="567.40" x2="321.40" y2="567.40" stroke-width="1.6" stroke-linecap="butt"/>
<line x1="318.40" y1="658.40" x2="321.40" y2="658.40" stroke-width="1.6" stroke-linecap="butt"/>
<line x1="319.40" y1="522.00" x2="321.40" y2="522.00" stroke-width="1.3" stroke-linecap="butt"/>
<line x1="319.40" y1="613.00" x2="321.40" y2="613.00" stroke-width="1.3" stroke-linecap="butt"/>
<line x1="412.70" y1="659.30" x2="412.70" y2="662.30" stroke-width="1.4" stroke-linecap="butt"/>
<line x1="490.00" y1="659.30" x2="490.00" y2="662.30" stroke-width="1.4" stroke-linecap="butt"/>
<text transform="matrix(0.9172,0,0,1,285.83,464.95)" font-size="25.85" font-weight="bold">C</text>
<text transform="matrix(1.0347,0,0,1,286.84,484.14)" font-size="16.53" font-weight="normal">200</text>
<text transform="matrix(0.9710,0,0,1,287.22,574.93)" font-size="17.37" font-weight="normal">100</text><g transform="matrix(0.9710,0,0,1,287.22,574.93)" fill="#fff" stroke="none"><rect x="0.499" y="-2.398" width="3.277" height="3.898"/><rect x="6.496" y="-2.398" width="3.141" height="3.898"/></g>
<text transform="matrix(0.9831,0,0,1,306.27,666.04)" font-size="16.38" font-weight="normal">0</text>
<text transform="matrix(0.9577,0,0,1,317.70,682.32)" font-size="18.79" font-weight="normal">0</text>
<text transform="matrix(0.9138,0,0,1,408.00,681.63)" font-size="17.23" font-weight="normal">10</text><g transform="matrix(0.9138,0,0,1,408.00,681.63)" fill="#fff" stroke="none"><rect x="0.437" y="-2.387" width="3.267" height="3.887"/><rect x="6.485" y="-2.387" width="3.132" height="3.887"/></g>
<text transform="matrix(0.9815,0,0,1,500.05,681.63)" font-size="17.23" font-weight="normal">20</text>
<text transform="matrix(1.0101,0,0,1,330.71,498.66)" font-size="14.12" font-weight="bold">COLO 205</text>
<text transform="matrix(1.0181,0,0,1,473.23,591.77)" font-size="12.24" font-weight="normal" class="sm">(2/10)</text><g transform="matrix(1.0181,0,0,1,473.23,591.77)" fill="#fff" stroke="none"><rect x="14.426" y="-2.014" width="2.366" height="3.514"/><rect x="19.003" y="-2.014" width="2.270" height="3.514"/></g>
<text transform="matrix(1.0181,0,0,1,473.23,620.67)" font-size="12.24" font-weight="normal" class="sm">(5/10)</text><g transform="matrix(1.0181,0,0,1,473.23,620.67)" fill="#fff" stroke="none"><rect x="14.426" y="-2.014" width="2.366" height="3.514"/><rect x="19.003" y="-2.014" width="2.270" height="3.514"/></g>
<text transform="matrix(1.0181,0,0,1,473.23,652.77)" font-size="12.24" font-weight="normal" class="sm">(9/10)</text><g transform="matrix(1.0181,0,0,1,473.23,652.77)" fill="#fff" stroke="none"><rect x="14.426" y="-2.014" width="2.366" height="3.514"/><rect x="19.003" y="-2.014" width="2.270" height="3.514"/></g>
<line x1="471.80" y1="600.80" x2="471.80" y2="608.00" stroke-width="1.3" stroke-linecap="butt"/>
<line x1="468.68" y1="602.60" x2="474.92" y2="606.20" stroke-width="1.3" stroke-linecap="butt"/>
<line x1="474.92" y1="602.60" x2="468.68" y2="606.20" stroke-width="1.3" stroke-linecap="butt"/>
<line x1="482.00" y1="600.80" x2="482.00" y2="608.00" stroke-width="1.3" stroke-linecap="butt"/>
<line x1="478.88" y1="602.60" x2="485.12" y2="606.20" stroke-width="1.3" stroke-linecap="butt"/>
<line x1="485.12" y1="602.60" x2="478.88" y2="606.20" stroke-width="1.3" stroke-linecap="butt"/>
<line x1="472.40" y1="633.80" x2="472.40" y2="641.00" stroke-width="1.3" stroke-linecap="butt"/>
<line x1="469.28" y1="635.60" x2="475.52" y2="639.20" stroke-width="1.3" stroke-linecap="butt"/>
<line x1="475.52" y1="635.60" x2="469.28" y2="639.20" stroke-width="1.3" stroke-linecap="butt"/>
<path d="M330.30,684.60 L335.10,693.00 L325.50,693.00Z" fill="#000"/>
<line x1="330.30" y1="692.00" x2="330.30" y2="699.20" stroke-width="1.7" stroke-linecap="butt"/>
<line x1="464.60" y1="509.20" x2="464.60" y2="548.50" stroke-width="1.9" stroke-linecap="butt"/>
<line x1="462.30" y1="509.20" x2="466.90" y2="509.20" stroke-width="2.0" stroke-linecap="butt"/>
<line x1="462.30" y1="548.50" x2="466.90" y2="548.50" stroke-width="2.0" stroke-linecap="butt"/>
<line x1="448.00" y1="530.00" x2="448.00" y2="565.00" stroke-width="1.9" stroke-linecap="butt"/>
<line x1="445.70" y1="530.00" x2="450.30" y2="530.00" stroke-width="2.0" stroke-linecap="butt"/>
<line x1="445.70" y1="565.00" x2="450.30" y2="565.00" stroke-width="2.0" stroke-linecap="butt"/>
<line x1="430.50" y1="556.00" x2="430.50" y2="590.00" stroke-width="1.9" stroke-linecap="butt"/>
<line x1="428.20" y1="556.00" x2="432.80" y2="556.00" stroke-width="2.0" stroke-linecap="butt"/>
<line x1="428.20" y1="590.00" x2="432.80" y2="590.00" stroke-width="2.0" stroke-linecap="butt"/>
<line x1="464.60" y1="578.50" x2="464.60" y2="608.00" stroke-width="1.9" stroke-linecap="butt"/>
<line x1="462.30" y1="578.50" x2="466.90" y2="578.50" stroke-width="2.0" stroke-linecap="butt"/>
<line x1="462.30" y1="608.00" x2="466.90" y2="608.00" stroke-width="2.0" stroke-linecap="butt"/>
<line x1="448.00" y1="588.00" x2="448.00" y2="614.00" stroke-width="1.9" stroke-linecap="butt"/>
<line x1="445.70" y1="588.00" x2="450.30" y2="588.00" stroke-width="2.0" stroke-linecap="butt"/>
<line x1="445.70" y1="614.00" x2="450.30" y2="614.00" stroke-width="2.0" stroke-linecap="butt"/>
<line x1="430.50" y1="604.00" x2="430.50" y2="625.00" stroke-width="1.9" stroke-linecap="butt"/>
<line x1="428.20" y1="604.00" x2="432.80" y2="604.00" stroke-width="2.0" stroke-linecap="butt"/>
<line x1="428.20" y1="625.00" x2="432.80" y2="625.00" stroke-width="2.0" stroke-linecap="butt"/>
<line x1="413.70" y1="612.00" x2="413.70" y2="630.00" stroke-width="1.9" stroke-linecap="butt"/>
<line x1="411.40" y1="612.00" x2="416.00" y2="612.00" stroke-width="2.0" stroke-linecap="butt"/>
<line x1="411.40" y1="630.00" x2="416.00" y2="630.00" stroke-width="2.0" stroke-linecap="butt"/>
<line x1="464.60" y1="604.00" x2="464.60" y2="628.00" stroke-width="1.9" stroke-linecap="butt"/>
<line x1="462.30" y1="604.00" x2="466.90" y2="604.00" stroke-width="2.0" stroke-linecap="butt"/>
<line x1="462.30" y1="628.00" x2="466.90" y2="628.00" stroke-width="2.0" stroke-linecap="butt"/>
<line x1="448.00" y1="608.00" x2="448.00" y2="632.00" stroke-width="1.9" stroke-linecap="butt"/>
<line x1="445.70" y1="608.00" x2="450.30" y2="608.00" stroke-width="2.0" stroke-linecap="butt"/>
<line x1="445.70" y1="632.00" x2="450.30" y2="632.00" stroke-width="2.0" stroke-linecap="butt"/>
<line x1="430.50" y1="620.00" x2="430.50" y2="638.00" stroke-width="1.9" stroke-linecap="butt"/>
<line x1="428.20" y1="620.00" x2="432.80" y2="620.00" stroke-width="2.0" stroke-linecap="butt"/>
<line x1="428.20" y1="638.00" x2="432.80" y2="638.00" stroke-width="2.0" stroke-linecap="butt"/>
<line x1="464.60" y1="640.00" x2="464.60" y2="657.00" stroke-width="1.9" stroke-linecap="butt"/>
<line x1="462.30" y1="640.00" x2="466.90" y2="640.00" stroke-width="2.0" stroke-linecap="butt"/>
<line x1="462.30" y1="657.00" x2="466.90" y2="657.00" stroke-width="2.0" stroke-linecap="butt"/>
<line x1="448.00" y1="641.00" x2="448.00" y2="657.00" stroke-width="1.9" stroke-linecap="butt"/>
<line x1="445.70" y1="641.00" x2="450.30" y2="641.00" stroke-width="2.0" stroke-linecap="butt"/>
<line x1="445.70" y1="657.00" x2="450.30" y2="657.00" stroke-width="2.0" stroke-linecap="butt"/>
<polyline points="346.40,635.70 363.30,624.50 380.40,619.20 396.70,604.00 413.70,582.70 430.50,562.00 448.00,537.00 464.60,530.30" fill="none" stroke-width="1.8" stroke-linejoin="round"/>
<polyline points="346.40,641.40 363.30,629.80 380.40,625.60 396.70,614.50 413.70,596.00 430.50,576.30 448.00,541.80 464.60,520.30" fill="none" stroke-width="1.8" stroke-linejoin="round"/>
<polyline points="346.40,649.50 363.30,639.50 380.40,635.10 396.70,619.80 413.70,598.00 430.50,583.30 448.00,558.00 464.60,540.30" fill="none" stroke-width="1.8" stroke-linejoin="round"/>
<polyline points="346.40,652.00 363.30,645.00 380.40,639.30 396.70,634.00 413.70,622.60 430.50,615.00 448.00,601.70 464.60,593.80" fill="none" stroke-width="1.8" stroke-linejoin="round"/>
<polyline points="346.40,655.00 363.30,652.00 380.40,647.80 396.70,641.40 413.70,635.30 430.50,629.20 448.00,620.40 464.60,616.20" fill="none" stroke-width="1.8" stroke-linejoin="round"/>
<polyline points="346.40,657.50 363.30,657.50 380.40,656.30 396.70,654.10 413.70,653.00 430.50,651.50 448.00,650.40 464.60,648.50" fill="none" stroke-width="1.8" stroke-linejoin="round"/>
<path d="M346.40,630.03 L351.65,639.48 L341.15,639.48Z" fill="#000" stroke="none"/>
<path d="M363.30,618.83 L368.55,628.28 L358.05,628.28Z" fill="#000" stroke="none"/>
<path d="M380.40,613.53 L385.65,622.98 L375.15,622.98Z" fill="#000" stroke="none"/>
<path d="M396.70,598.33 L401.95,607.78 L391.45,607.78Z" fill="#000" stroke="none"/>
<path d="M413.70,577.03 L418.95,586.48 L408.45,586.48Z" fill="#000" stroke="none"/>
<path d="M430.50,556.33 L435.75,565.78 L425.25,565.78Z" fill="#000" stroke="none"/>
<path d="M448.00,531.33 L453.25,540.78 L442.75,540.78Z" fill="#000" stroke="none"/>
<path d="M464.60,524.63 L469.85,534.08 L459.35,534.08Z" fill="#000" stroke="none"/>
<rect x="341.40" y="636.40" width="10.00" height="10.00" fill="#000" stroke="none"/>
<rect x="358.30" y="624.80" width="10.00" height="10.00" fill="#000" stroke="none"/>
<rect x="375.40" y="620.60" width="10.00" height="10.00" fill="#000" stroke="none"/>
<rect x="391.70" y="609.50" width="10.00" height="10.00" fill="#000" stroke="none"/>
<rect x="408.70" y="591.00" width="10.00" height="10.00" fill="#000" stroke="none"/>
<rect x="425.50" y="571.30" width="10.00" height="10.00" fill="#000" stroke="none"/>
<rect x="443.00" y="536.80" width="10.00" height="10.00" fill="#000" stroke="none"/>
<rect x="459.60" y="515.30" width="10.00" height="10.00" fill="#000" stroke="none"/>
<circle cx="346.40" cy="652.00" r="5.20" fill="#000" stroke="none"/>
<circle cx="363.30" cy="645.00" r="5.20" fill="#000" stroke="none"/>
<circle cx="380.40" cy="639.30" r="5.20" fill="#000" stroke="none"/>
<circle cx="396.70" cy="634.00" r="5.20" fill="#000" stroke="none"/>
<circle cx="413.70" cy="622.60" r="5.20" fill="#000" stroke="none"/>
<circle cx="430.50" cy="615.00" r="5.20" fill="#000" stroke="none"/>
<circle cx="448.00" cy="601.70" r="5.20" fill="#000" stroke="none"/>
<circle cx="464.60" cy="593.80" r="5.20" fill="#000" stroke="none"/>
<path d="M346.40,644.83 L350.75,652.48 L342.05,652.48Z" fill="#fff" stroke-width="2.0" stroke-linejoin="miter"/>
<path d="M363.30,634.83 L367.65,642.48 L358.95,642.48Z" fill="#fff" stroke-width="2.0" stroke-linejoin="miter"/>
<path d="M380.40,630.43 L384.75,638.08 L376.05,638.08Z" fill="#fff" stroke-width="2.0" stroke-linejoin="miter"/>
<path d="M396.70,615.13 L401.05,622.78 L392.35,622.78Z" fill="#fff" stroke-width="2.0" stroke-linejoin="miter"/>
<path d="M413.70,593.33 L418.05,600.98 L409.35,600.98Z" fill="#fff" stroke-width="2.0" stroke-linejoin="miter"/>
<path d="M430.50,578.63 L434.85,586.28 L426.15,586.28Z" fill="#fff" stroke-width="2.0" stroke-linejoin="miter"/>
<path d="M448.00,553.33 L452.35,560.98 L443.65,560.98Z" fill="#fff" stroke-width="2.0" stroke-linejoin="miter"/>
<path d="M464.60,535.63 L468.95,543.28 L460.25,543.28Z" fill="#fff" stroke-width="2.0" stroke-linejoin="miter"/>
<rect x="408.70" y="594.00" width="10.00" height="10.00" fill="#000" stroke="none"/>
<rect x="342.40" y="651.00" width="8.00" height="8.00" fill="#fff" stroke-width="2.0"/>
<rect x="359.30" y="648.00" width="8.00" height="8.00" fill="#fff" stroke-width="2.0"/>
<rect x="376.40" y="643.80" width="8.00" height="8.00" fill="#fff" stroke-width="2.0"/>
<rect x="392.70" y="637.40" width="8.00" height="8.00" fill="#fff" stroke-width="2.0"/>
<rect x="409.70" y="631.30" width="8.00" height="8.00" fill="#fff" stroke-width="2.0"/>
<rect x="426.50" y="625.20" width="8.00" height="8.00" fill="#fff" stroke-width="2.0"/>
<rect x="444.00" y="616.40" width="8.00" height="8.00" fill="#fff" stroke-width="2.0"/>
<rect x="460.60" y="612.20" width="8.00" height="8.00" fill="#fff" stroke-width="2.0"/>
<rect x="341.50" y="652.10" width="10.40" height="10.40" fill="#000" stroke="none"/>
<circle cx="346.40" cy="657.50" r="3.80" fill="#fff" stroke-width="2.0"/>
<circle cx="363.30" cy="657.50" r="3.80" fill="#fff" stroke-width="2.0"/>
<circle cx="380.40" cy="656.30" r="3.80" fill="#fff" stroke-width="2.0"/>
<circle cx="396.70" cy="654.10" r="3.80" fill="#fff" stroke-width="2.0"/>
<circle cx="413.70" cy="653.00" r="3.80" fill="#fff" stroke-width="2.0"/>
<circle cx="430.50" cy="651.50" r="3.80" fill="#fff" stroke-width="2.0"/>
<circle cx="448.00" cy="650.40" r="3.80" fill="#fff" stroke-width="2.0"/>
<circle cx="464.60" cy="648.50" r="3.80" fill="#fff" stroke-width="2.0"/>
<g transform="translate(21.6,461.0) rotate(-90) scale(1.012,1)"><text x="0" y="0" font-size="24" font-weight="bold" id="ytitle">Mean Tumor Size (mm<tspan font-size="15" dy="-9">2</tspan><tspan dy="9">)</tspan></text></g>
<text transform="matrix(1.0619,0,0,1,140.69,725.80)" font-size="22.70" font-weight="bold">Days after tumor inoculation</text>
</svg>
</body></html>
